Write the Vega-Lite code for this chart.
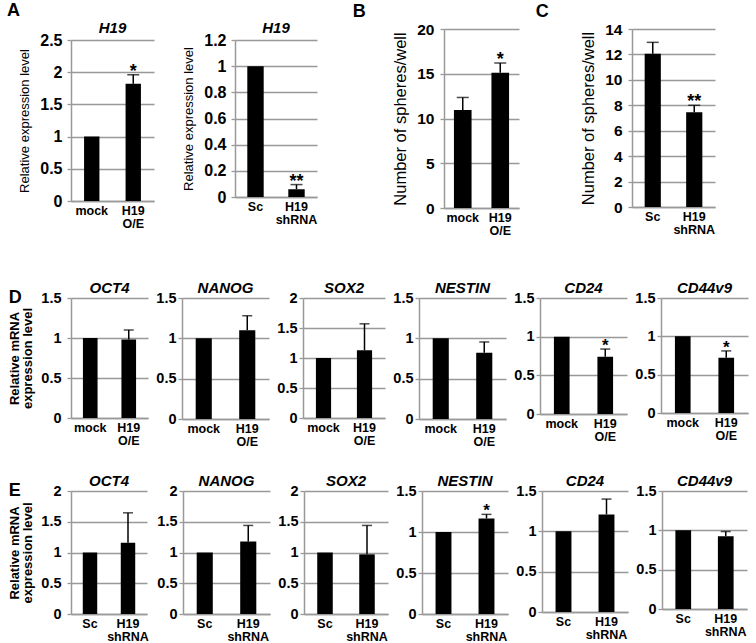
{
  "$schema": "https://vega.github.io/schema/vega-lite/v6.json",
  "padding": {"left": 7, "top": 2, "right": 4, "bottom": 1},
  "background": "white",
  "config": {
    "font": "Liberation Sans",
    "view": {"stroke": null},
    "bar": {"color": "black"},
    "rule": {"color": "black", "strokeWidth": 1.5},
    "tick": {"color": "black", "thickness": 1.5},
    "text": {"color": "black", "fontSize": 18, "fontWeight": "bold", "baseline": "alphabetic"},
    "axisX": {"domainColor": "#999", "domainWidth": 1.5, "ticks": false, "grid": false, "labelAngle": 0, "labelFontSize": 12.5, "labelFontWeight": "bold", "labelColor": "black", "labelPadding": 3, "labelLineHeight": 13},
    "axisY": {"grid": true, "gridColor": "#999", "gridWidth": 1.3, "domainColor": "#999", "domainWidth": 1.5, "tickColor": "#999", "tickSize": 4, "tickWidth": 1.3, "labelFontWeight": "bold", "labelColor": "black", "labelPadding": 6, "titleFontWeight": "normal", "titleColor": "black", "titlePadding": 8},
    "title": {"fontSize": 15, "fontStyle": "italic", "fontWeight": "bold", "color": "black", "anchor": "middle", "offset": -6}
  },
  "data": {"values": [
    {"panel": "A1", "group": "mock", "value": 1, "err": 1, "sig": ""},
    {"panel": "A1", "group": "H19 O/E", "value": 1.82, "err": 1.96, "sig": "*"},
    {"panel": "A2", "group": "Sc", "value": 1, "err": 1, "sig": ""},
    {"panel": "A2", "group": "H19 shRNA", "value": 0.06, "err": 0.095, "sig": "**"},
    {"panel": "B", "group": "mock", "value": 10.95, "err": 12.35, "sig": ""},
    {"panel": "B", "group": "H19 O/E", "value": 15.1, "err": 16.2, "sig": "*"},
    {"panel": "C", "group": "Sc", "value": 12.05, "err": 12.95, "sig": ""},
    {"panel": "C", "group": "H19 shRNA", "value": 7.45, "err": 8.0, "sig": "**"},
    {"panel": "D_OCT4", "group": "mock", "value": 1, "err": 1, "sig": ""},
    {"panel": "D_OCT4", "group": "H19 O/E", "value": 0.98, "err": 1.1, "sig": ""},
    {"panel": "D_NANOG", "group": "mock", "value": 1, "err": 1, "sig": ""},
    {"panel": "D_NANOG", "group": "H19 O/E", "value": 1.1, "err": 1.28, "sig": ""},
    {"panel": "D_SOX2", "group": "mock", "value": 1, "err": 1, "sig": ""},
    {"panel": "D_SOX2", "group": "H19 O/E", "value": 1.13, "err": 1.57, "sig": ""},
    {"panel": "D_NESTIN", "group": "mock", "value": 1, "err": 1, "sig": ""},
    {"panel": "D_NESTIN", "group": "H19 O/E", "value": 0.82, "err": 0.955, "sig": ""},
    {"panel": "D_CD24", "group": "mock", "value": 1, "err": 1, "sig": ""},
    {"panel": "D_CD24", "group": "H19 O/E", "value": 0.74, "err": 0.84, "sig": "*"},
    {"panel": "D_CD44v9", "group": "mock", "value": 1, "err": 1, "sig": ""},
    {"panel": "D_CD44v9", "group": "H19 O/E", "value": 0.72, "err": 0.81, "sig": "*"},
    {"panel": "E_OCT4", "group": "Sc", "value": 1, "err": 1, "sig": ""},
    {"panel": "E_OCT4", "group": "H19 shRNA", "value": 1.16, "err": 1.645, "sig": ""},
    {"panel": "E_NANOG", "group": "Sc", "value": 1, "err": 1, "sig": ""},
    {"panel": "E_NANOG", "group": "H19 shRNA", "value": 1.18, "err": 1.44, "sig": ""},
    {"panel": "E_SOX2", "group": "Sc", "value": 1, "err": 1, "sig": ""},
    {"panel": "E_SOX2", "group": "H19 shRNA", "value": 0.97, "err": 1.44, "sig": ""},
    {"panel": "E_NESTIN", "group": "Sc", "value": 1, "err": 1, "sig": ""},
    {"panel": "E_NESTIN", "group": "H19 shRNA", "value": 1.165, "err": 1.215, "sig": "*"},
    {"panel": "E_CD24", "group": "Sc", "value": 1, "err": 1, "sig": ""},
    {"panel": "E_CD24", "group": "H19 shRNA", "value": 1.21, "err": 1.4, "sig": ""},
    {"panel": "E_CD44v9", "group": "Sc", "value": 1, "err": 1, "sig": ""},
    {"panel": "E_CD44v9", "group": "H19 shRNA", "value": 0.925, "err": 0.985, "sig": ""}
  ]},
  "spacing": 44,
  "vconcat": [
    {
      "spacing": 35,
      "hconcat": [
        {
          "spacing": -9,
          "vconcat": [
            {
              "width": 1, "height": 1,
              "view": {"fill": "transparent", "stroke": null},
              "title": {"text": "A", "anchor": "start", "frame": "group", "dx": -64, "offset": 9, "fontSize": 18, "fontStyle": "normal", "fontWeight": "bold"},
              "data": {"values": []},
              "mark": "point",
              "encoding": {}
            },
            {
              "spacing": 28,
              "hconcat": [
                {
                  "width": 83, "height": 161,
                  "title": {"text": "H19", "offset": -4},
                  "transform": [{"filter": "datum.panel == 'A1'"}],
                  "encoding": {
                    "x": {"field": "group", "type": "nominal", "sort": null, "title": null, "scale": {"paddingInner": 0, "paddingOuter": 0}, "axis": {"labelExpr": "split(datum.label, ' ')"}},
                    "y": {"field": "value", "type": "quantitative", "title": "Relative expression level", "scale": {"domain": [0, 2.5], "nice": false}, "axis": {"values": [0, 0.5, 1, 1.5, 2, 2.5], "format": "~g", "labelFontSize": 16, "titleFontSize": 13, "labelPadding": 5}}
                  },
                  "layer": [
                    {"mark": {"type": "bar", "width": {"band": 0.37}}},
                    {"transform": [{"filter": "datum.err > datum.value"}], "mark": {"type": "rule"}, "encoding": {"y2": {"field": "err"}}},
                    {"transform": [{"filter": "datum.err > datum.value"}], "mark": {"type": "tick", "size": 12}, "encoding": {"y": {"field": "err", "type": "quantitative"}}},
                    {"transform": [{"filter": "datum.sig != ''"}], "mark": {"type": "text", "dy": 2}, "encoding": {"y": {"field": "err", "type": "quantitative"}, "text": {"field": "sig"}}}
                  ]
                },
                {
                  "width": 82, "height": 157,
                  "title": {"text": "H19", "offset": -4},
                  "transform": [{"filter": "datum.panel == 'A2'"}],
                  "encoding": {
                    "x": {"field": "group", "type": "nominal", "sort": null, "title": null, "scale": {"paddingInner": 0, "paddingOuter": 0}, "axis": {"labelExpr": "split(datum.label, ' ')"}},
                    "y": {"field": "value", "type": "quantitative", "title": "Relative expression level", "scale": {"domain": [0, 1.2], "nice": false}, "axis": {"values": [0, 0.2, 0.4, 0.6, 0.8, 1, 1.2], "format": "~g", "labelFontSize": 16, "titleFontSize": 13, "labelPadding": 5}}
                  },
                  "layer": [
                    {"mark": {"type": "bar", "width": {"band": 0.4}}},
                    {"transform": [{"filter": "datum.err > datum.value"}], "mark": {"type": "rule"}, "encoding": {"y2": {"field": "err"}}},
                    {"transform": [{"filter": "datum.err > datum.value"}], "mark": {"type": "tick", "size": 12}, "encoding": {"y": {"field": "err", "type": "quantitative"}}},
                    {"transform": [{"filter": "datum.sig != ''"}], "mark": {"type": "text", "dy": 2}, "encoding": {"y": {"field": "err", "type": "quantitative"}, "text": {"field": "sig"}}}
                  ]
                }
              ]
            }
          ]
        },
        {
          "spacing": 16,
          "hconcat": [
            {
              "width": 75, "height": 179,
              "title": {"text": "B", "anchor": "start", "frame": "bounds", "dx": -40, "fontSize": 18, "fontStyle": "normal", "fontWeight": "bold", "offset": 1},
              "transform": [{"filter": "datum.panel == 'B'"}],
              "encoding": {
                "x": {"field": "group", "type": "nominal", "sort": null, "title": null, "scale": {"paddingInner": 0, "paddingOuter": 0}, "axis": {"labelExpr": "split(datum.label, ' ')"}},
                "y": {"field": "value", "type": "quantitative", "title": "Number of spheres/well", "scale": {"domain": [0, 20], "nice": false}, "axis": {"values": [0, 5, 10, 15, 20], "format": "~g", "labelFontSize": 15.5, "titleFontSize": 16.5}}
              },
              "layer": [
                {"mark": {"type": "bar", "width": {"band": 0.47}}},
                {"transform": [{"filter": "datum.err > datum.value"}], "mark": {"type": "rule"}, "encoding": {"y2": {"field": "err"}}},
                {"transform": [{"filter": "datum.err > datum.value"}], "mark": {"type": "tick", "size": 12}, "encoding": {"y": {"field": "err", "type": "quantitative"}}},
                {"transform": [{"filter": "datum.sig != ''"}], "mark": {"type": "text", "dy": 2}, "encoding": {"y": {"field": "err", "type": "quantitative"}, "text": {"field": "sig"}}}
              ]
            },
            {
              "width": 83, "height": 178,
              "title": {"text": "C", "anchor": "start", "frame": "bounds", "dx": -45, "fontSize": 18, "fontStyle": "normal", "fontWeight": "bold", "offset": 1},
              "transform": [{"filter": "datum.panel == 'C'"}],
              "encoding": {
                "x": {"field": "group", "type": "nominal", "sort": null, "title": null, "scale": {"paddingInner": 0, "paddingOuter": 0}, "axis": {"labelExpr": "split(datum.label, ' ')"}},
                "y": {"field": "value", "type": "quantitative", "title": "Number of spheres/well", "scale": {"domain": [0, 14], "nice": false}, "axis": {"values": [0, 2, 4, 6, 8, 10, 12, 14], "format": "~g", "labelFontSize": 15.5, "titleFontSize": 16.5}}
              },
              "layer": [
                {"mark": {"type": "bar", "width": {"band": 0.39}}},
                {"transform": [{"filter": "datum.err > datum.value"}], "mark": {"type": "rule"}, "encoding": {"y2": {"field": "err"}}},
                {"transform": [{"filter": "datum.err > datum.value"}], "mark": {"type": "tick", "size": 12}, "encoding": {"y": {"field": "err", "type": "quantitative"}}},
                {"transform": [{"filter": "datum.sig != ''"}], "mark": {"type": "text", "dy": 2}, "encoding": {"y": {"field": "err", "type": "quantitative"}, "text": {"field": "sig"}}}
              ]
            }
          ]
        }
      ]
    },
    {
      "spacing": 26,
      "vconcat": [
        {
          "spacing": 7,
          "title": {"text": "D", "anchor": "start", "frame": "bounds", "dx": 0, "dy": 26, "fontSize": 18, "fontStyle": "normal", "fontWeight": "bold", "offset": 0},
          "hconcat": [
            {
              "width": 77, "height": 120,
              "title": {"text": "OCT4"},
              "transform": [{"filter": "datum.panel == 'D_OCT4'"}],
              "encoding": {
                "x": {"field": "group", "type": "nominal", "sort": null, "title": null, "scale": {"paddingInner": 0, "paddingOuter": 0}, "axis": {"labelExpr": "split(datum.label, ' ')"}},
                "y": {"field": "value", "type": "quantitative", "title": ["Relative mRNA", "expression level"], "scale": {"domain": [0, 1.5], "nice": false}, "axis": {"values": [0, 0.5, 1, 1.5], "format": "~g", "labelFontSize": 14.5, "titleFontSize": 13, "titleFontWeight": "bold", "titleLineHeight": 13, "titlePadding": 6}}
              },
              "layer": [
                {"mark": {"type": "bar", "width": {"band": 0.38}}},
                {"transform": [{"filter": "datum.err > datum.value"}], "mark": {"type": "rule"}, "encoding": {"y2": {"field": "err"}}},
                {"transform": [{"filter": "datum.err > datum.value"}], "mark": {"type": "tick", "size": 10}, "encoding": {"y": {"field": "err", "type": "quantitative"}}},
                {"transform": [{"filter": "datum.sig != ''"}], "mark": {"type": "text", "dy": 2, "fontSize": 17}, "encoding": {"y": {"field": "err", "type": "quantitative"}, "text": {"field": "sig"}}}
              ]
            },
            {
              "width": 87, "height": 121,
              "title": {"text": "NANOG"},
              "transform": [{"filter": "datum.panel == 'D_NANOG'"}],
              "encoding": {
                "x": {"field": "group", "type": "nominal", "sort": null, "title": null, "scale": {"paddingInner": 0, "paddingOuter": 0}, "axis": {"labelExpr": "split(datum.label, ' ')"}},
                "y": {"field": "value", "type": "quantitative", "title": null, "scale": {"domain": [0, 1.5], "nice": false}, "axis": {"values": [0, 0.5, 1, 1.5], "format": "~g", "labelFontSize": 14.5, "labelPadding": 2}}
              },
              "layer": [
                {"mark": {"type": "bar", "width": {"band": 0.37}}},
                {"transform": [{"filter": "datum.err > datum.value"}], "mark": {"type": "rule"}, "encoding": {"y2": {"field": "err"}}},
                {"transform": [{"filter": "datum.err > datum.value"}], "mark": {"type": "tick", "size": 10}, "encoding": {"y": {"field": "err", "type": "quantitative"}}},
                {"transform": [{"filter": "datum.sig != ''"}], "mark": {"type": "text", "dy": 2, "fontSize": 17}, "encoding": {"y": {"field": "err", "type": "quantitative"}, "text": {"field": "sig"}}}
              ]
            },
            {
              "width": 82, "height": 120,
              "title": {"text": "SOX2"},
              "transform": [{"filter": "datum.panel == 'D_SOX2'"}],
              "encoding": {
                "x": {"field": "group", "type": "nominal", "sort": null, "title": null, "scale": {"paddingInner": 0, "paddingOuter": 0}, "axis": {"labelExpr": "split(datum.label, ' ')"}},
                "y": {"field": "value", "type": "quantitative", "title": null, "scale": {"domain": [0, 2], "nice": false}, "axis": {"values": [0, 0.5, 1, 1.5, 2], "format": "~g", "labelFontSize": 14.5, "labelPadding": 2}}
              },
              "layer": [
                {"mark": {"type": "bar", "width": {"band": 0.37}}},
                {"transform": [{"filter": "datum.err > datum.value"}], "mark": {"type": "rule"}, "encoding": {"y2": {"field": "err"}}},
                {"transform": [{"filter": "datum.err > datum.value"}], "mark": {"type": "tick", "size": 10}, "encoding": {"y": {"field": "err", "type": "quantitative"}}},
                {"transform": [{"filter": "datum.sig != ''"}], "mark": {"type": "text", "dy": 2, "fontSize": 17}, "encoding": {"y": {"field": "err", "type": "quantitative"}, "text": {"field": "sig"}}}
              ]
            },
            {
              "width": 87, "height": 121,
              "title": {"text": "NESTIN"},
              "transform": [{"filter": "datum.panel == 'D_NESTIN'"}],
              "encoding": {
                "x": {"field": "group", "type": "nominal", "sort": null, "title": null, "scale": {"paddingInner": 0, "paddingOuter": 0}, "axis": {"labelExpr": "split(datum.label, ' ')"}},
                "y": {"field": "value", "type": "quantitative", "title": null, "scale": {"domain": [0, 1.5], "nice": false}, "axis": {"values": [0, 0.5, 1, 1.5], "format": "~g", "labelFontSize": 14.5, "labelPadding": 2}}
              },
              "layer": [
                {"mark": {"type": "bar", "width": {"band": 0.37}}},
                {"transform": [{"filter": "datum.err > datum.value"}], "mark": {"type": "rule"}, "encoding": {"y2": {"field": "err"}}},
                {"transform": [{"filter": "datum.err > datum.value"}], "mark": {"type": "tick", "size": 10}, "encoding": {"y": {"field": "err", "type": "quantitative"}}},
                {"transform": [{"filter": "datum.sig != ''"}], "mark": {"type": "text", "dy": 2, "fontSize": 17}, "encoding": {"y": {"field": "err", "type": "quantitative"}, "text": {"field": "sig"}}}
              ]
            },
            {
              "width": 87, "height": 116,
              "title": {"text": "CD24"},
              "transform": [{"filter": "datum.panel == 'D_CD24'"}],
              "encoding": {
                "x": {"field": "group", "type": "nominal", "sort": null, "title": null, "scale": {"paddingInner": 0, "paddingOuter": 0}, "axis": {"labelExpr": "split(datum.label, ' ')"}},
                "y": {"field": "value", "type": "quantitative", "title": null, "scale": {"domain": [0, 1.5], "nice": false}, "axis": {"values": [0, 0.5, 1, 1.5], "format": "~g", "labelFontSize": 14.5, "labelPadding": 2}}
              },
              "layer": [
                {"mark": {"type": "bar", "width": {"band": 0.36}}},
                {"transform": [{"filter": "datum.err > datum.value"}], "mark": {"type": "rule"}, "encoding": {"y2": {"field": "err"}}},
                {"transform": [{"filter": "datum.err > datum.value"}], "mark": {"type": "tick", "size": 10}, "encoding": {"y": {"field": "err", "type": "quantitative"}}},
                {"transform": [{"filter": "datum.sig != ''"}], "mark": {"type": "text", "dy": 2, "fontSize": 17}, "encoding": {"y": {"field": "err", "type": "quantitative"}, "text": {"field": "sig"}}}
              ]
            },
            {
              "width": 87, "height": 115,
              "title": {"text": "CD44v9"},
              "transform": [{"filter": "datum.panel == 'D_CD44v9'"}],
              "encoding": {
                "x": {"field": "group", "type": "nominal", "sort": null, "title": null, "scale": {"paddingInner": 0, "paddingOuter": 0}, "axis": {"labelExpr": "split(datum.label, ' ')"}},
                "y": {"field": "value", "type": "quantitative", "title": null, "scale": {"domain": [0, 1.5], "nice": false}, "axis": {"values": [0, 0.5, 1, 1.5], "format": "~g", "labelFontSize": 14.5, "labelPadding": 2}}
              },
              "layer": [
                {"mark": {"type": "bar", "width": {"band": 0.36}}},
                {"transform": [{"filter": "datum.err > datum.value"}], "mark": {"type": "rule"}, "encoding": {"y2": {"field": "err"}}},
                {"transform": [{"filter": "datum.err > datum.value"}], "mark": {"type": "tick", "size": 10}, "encoding": {"y": {"field": "err", "type": "quantitative"}}},
                {"transform": [{"filter": "datum.sig != ''"}], "mark": {"type": "text", "dy": 2, "fontSize": 17}, "encoding": {"y": {"field": "err", "type": "quantitative"}, "text": {"field": "sig"}}}
              ]
            }
          ]
        },
        {
          "spacing": 7,
          "title": {"text": "E", "anchor": "start", "frame": "bounds", "dx": 0, "dy": 26, "fontSize": 18, "fontStyle": "normal", "fontWeight": "bold", "offset": 0},
          "hconcat": [
            {
              "width": 76, "height": 123,
              "title": {"text": "OCT4"},
              "transform": [{"filter": "datum.panel == 'E_OCT4'"}],
              "encoding": {
                "x": {"field": "group", "type": "nominal", "sort": null, "title": null, "scale": {"paddingInner": 0, "paddingOuter": 0}, "axis": {"labelExpr": "split(datum.label, ' ')"}},
                "y": {"field": "value", "type": "quantitative", "title": ["Relative mRNA", "expression level"], "scale": {"domain": [0, 2], "nice": false}, "axis": {"values": [0, 0.5, 1, 1.5, 2], "format": "~g", "labelFontSize": 14.5, "titleFontSize": 13, "titleFontWeight": "bold", "titleLineHeight": 13, "titlePadding": 6}}
              },
              "layer": [
                {"mark": {"type": "bar", "width": {"band": 0.38}}},
                {"transform": [{"filter": "datum.err > datum.value"}], "mark": {"type": "rule"}, "encoding": {"y2": {"field": "err"}}},
                {"transform": [{"filter": "datum.err > datum.value"}], "mark": {"type": "tick", "size": 10}, "encoding": {"y": {"field": "err", "type": "quantitative"}}},
                {"transform": [{"filter": "datum.sig != ''"}], "mark": {"type": "text", "dy": 2, "fontSize": 17}, "encoding": {"y": {"field": "err", "type": "quantitative"}, "text": {"field": "sig"}}}
              ]
            },
            {
              "width": 87, "height": 123,
              "title": {"text": "NANOG"},
              "transform": [{"filter": "datum.panel == 'E_NANOG'"}],
              "encoding": {
                "x": {"field": "group", "type": "nominal", "sort": null, "title": null, "scale": {"paddingInner": 0, "paddingOuter": 0}, "axis": {"labelExpr": "split(datum.label, ' ')"}},
                "y": {"field": "value", "type": "quantitative", "title": null, "scale": {"domain": [0, 2], "nice": false}, "axis": {"values": [0, 0.5, 1, 1.5, 2], "format": "~g", "labelFontSize": 14.5, "labelPadding": 2}}
              },
              "layer": [
                {"mark": {"type": "bar", "width": {"band": 0.37}}},
                {"transform": [{"filter": "datum.err > datum.value"}], "mark": {"type": "rule"}, "encoding": {"y2": {"field": "err"}}},
                {"transform": [{"filter": "datum.err > datum.value"}], "mark": {"type": "tick", "size": 10}, "encoding": {"y": {"field": "err", "type": "quantitative"}}},
                {"transform": [{"filter": "datum.sig != ''"}], "mark": {"type": "text", "dy": 2, "fontSize": 17}, "encoding": {"y": {"field": "err", "type": "quantitative"}, "text": {"field": "sig"}}}
              ]
            },
            {
              "width": 84, "height": 123,
              "title": {"text": "SOX2"},
              "transform": [{"filter": "datum.panel == 'E_SOX2'"}],
              "encoding": {
                "x": {"field": "group", "type": "nominal", "sort": null, "title": null, "scale": {"paddingInner": 0, "paddingOuter": 0}, "axis": {"labelExpr": "split(datum.label, ' ')"}},
                "y": {"field": "value", "type": "quantitative", "title": null, "scale": {"domain": [0, 2], "nice": false}, "axis": {"values": [0, 0.5, 1, 1.5, 2], "format": "~g", "labelFontSize": 14.5, "labelPadding": 2}}
              },
              "layer": [
                {"mark": {"type": "bar", "width": {"band": 0.37}}},
                {"transform": [{"filter": "datum.err > datum.value"}], "mark": {"type": "rule"}, "encoding": {"y2": {"field": "err"}}},
                {"transform": [{"filter": "datum.err > datum.value"}], "mark": {"type": "tick", "size": 10}, "encoding": {"y": {"field": "err", "type": "quantitative"}}},
                {"transform": [{"filter": "datum.sig != ''"}], "mark": {"type": "text", "dy": 2, "fontSize": 17}, "encoding": {"y": {"field": "err", "type": "quantitative"}, "text": {"field": "sig"}}}
              ]
            },
            {
              "width": 86, "height": 123,
              "title": {"text": "NESTIN"},
              "transform": [{"filter": "datum.panel == 'E_NESTIN'"}],
              "encoding": {
                "x": {"field": "group", "type": "nominal", "sort": null, "title": null, "scale": {"paddingInner": 0, "paddingOuter": 0}, "axis": {"labelExpr": "split(datum.label, ' ')"}},
                "y": {"field": "value", "type": "quantitative", "title": null, "scale": {"domain": [0, 1.5], "nice": false}, "axis": {"values": [0, 0.5, 1, 1.5], "format": "~g", "labelFontSize": 14.5, "labelPadding": 2}}
              },
              "layer": [
                {"mark": {"type": "bar", "width": {"band": 0.37}}},
                {"transform": [{"filter": "datum.err > datum.value"}], "mark": {"type": "rule"}, "encoding": {"y2": {"field": "err"}}},
                {"transform": [{"filter": "datum.err > datum.value"}], "mark": {"type": "tick", "size": 10}, "encoding": {"y": {"field": "err", "type": "quantitative"}}},
                {"transform": [{"filter": "datum.sig != ''"}], "mark": {"type": "text", "dy": 2, "fontSize": 17}, "encoding": {"y": {"field": "err", "type": "quantitative"}, "text": {"field": "sig"}}}
              ]
            },
            {
              "width": 86, "height": 121,
              "title": {"text": "CD24"},
              "transform": [{"filter": "datum.panel == 'E_CD24'"}],
              "encoding": {
                "x": {"field": "group", "type": "nominal", "sort": null, "title": null, "scale": {"paddingInner": 0, "paddingOuter": 0}, "axis": {"labelExpr": "split(datum.label, ' ')"}},
                "y": {"field": "value", "type": "quantitative", "title": null, "scale": {"domain": [0, 1.5], "nice": false}, "axis": {"values": [0, 0.5, 1, 1.5], "format": "~g", "labelFontSize": 14.5, "labelPadding": 2}}
              },
              "layer": [
                {"mark": {"type": "bar", "width": {"band": 0.37}}},
                {"transform": [{"filter": "datum.err > datum.value"}], "mark": {"type": "rule"}, "encoding": {"y2": {"field": "err"}}},
                {"transform": [{"filter": "datum.err > datum.value"}], "mark": {"type": "tick", "size": 10}, "encoding": {"y": {"field": "err", "type": "quantitative"}}},
                {"transform": [{"filter": "datum.sig != ''"}], "mark": {"type": "text", "dy": 2, "fontSize": 17}, "encoding": {"y": {"field": "err", "type": "quantitative"}, "text": {"field": "sig"}}}
              ]
            },
            {
              "width": 85, "height": 118,
              "title": {"text": "CD44v9"},
              "transform": [{"filter": "datum.panel == 'E_CD44v9'"}],
              "encoding": {
                "x": {"field": "group", "type": "nominal", "sort": null, "title": null, "scale": {"paddingInner": 0, "paddingOuter": 0}, "axis": {"labelExpr": "split(datum.label, ' ')"}},
                "y": {"field": "value", "type": "quantitative", "title": null, "scale": {"domain": [0, 1.5], "nice": false}, "axis": {"values": [0, 0.5, 1, 1.5], "format": "~g", "labelFontSize": 14.5, "labelPadding": 2}}
              },
              "layer": [
                {"mark": {"type": "bar", "width": {"band": 0.37}}},
                {"transform": [{"filter": "datum.err > datum.value"}], "mark": {"type": "rule"}, "encoding": {"y2": {"field": "err"}}},
                {"transform": [{"filter": "datum.err > datum.value"}], "mark": {"type": "tick", "size": 10}, "encoding": {"y": {"field": "err", "type": "quantitative"}}},
                {"transform": [{"filter": "datum.sig != ''"}], "mark": {"type": "text", "dy": 2, "fontSize": 17}, "encoding": {"y": {"field": "err", "type": "quantitative"}, "text": {"field": "sig"}}}
              ]
            }
          ]
        }
      ]
    }
  ]
}
